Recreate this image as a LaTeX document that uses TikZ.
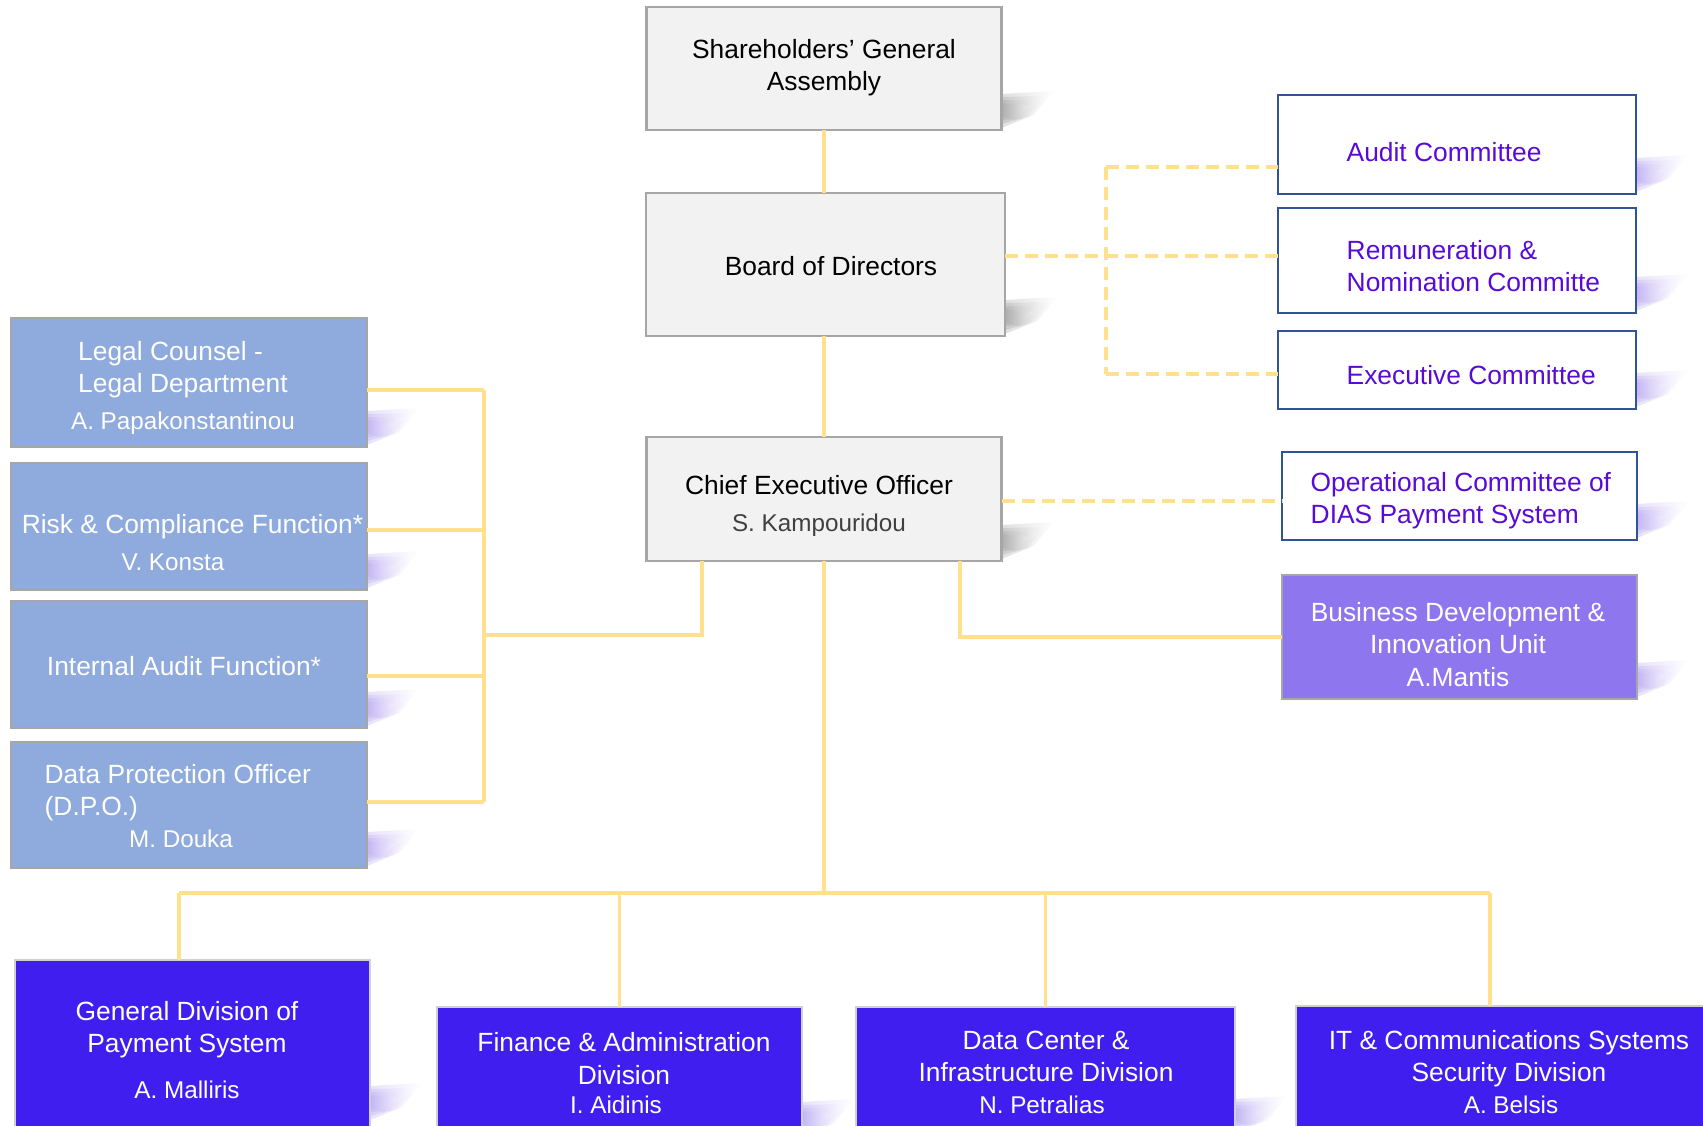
\documentclass[tikz,border=0pt]{standalone}
\usepackage{fontspec}
\setmainfont{Liberation Sans}
\usetikzlibrary{backgrounds}

\definecolor{linegold}{RGB}{255,224,140}
\definecolor{boxgray}{RGB}{242,242,242}
\definecolor{edgegray}{RGB}{166,166,166}
\definecolor{funcblue}{RGB}{143,170,220}
\definecolor{comedge}{RGB}{47,85,151}
\definecolor{comtext}{RGB}{88,10,215}
\definecolor{unitpurple}{RGB}{142,118,238}
\definecolor{divblue}{RGB}{64,30,240}
\definecolor{divedge}{RGB}{208,208,208}
\definecolor{lavender}{RGB}{178,160,242}
\definecolor{shadowgray}{RGB}{150,150,150}
\definecolor{namegray}{RGB}{64,64,64}

\tikzset{
  box/.style={rectangle, inner sep=0pt, outer sep=0pt},
  graybox/.style={box, fill=boxgray, draw=edgegray, line width=0.7pt},
  funcbox/.style={box, fill=funcblue, draw=edgegray, line width=0.7pt},
  combox/.style={box, fill=white, draw=comedge, line width=0.8pt},
  unitbox/.style={box, fill=unitpurple, draw=edgegray, line width=0.7pt},
  divbox/.style={box, fill=divblue, draw=divedge, line width=0.7pt},
  txt/.style={font=\fontsize{7.5}{9.2}\selectfont, inner sep=0pt, align=center},
  nametxt/.style={font=\fontsize{6.9}{8.5}\selectfont, inner sep=0pt},
  conn/.style={draw=linegold, line width=0.9pt},
  dashconn/.style={conn, dash pattern=on 0.13cm off 0.07cm},
}

\begin{document}
\begin{tikzpicture}
	\useasboundingbox (0,0) rectangle (17.03,-11.26);
	\clip (0,0) rectangle (17.03,-11.26);

	% governance boxes
	\node[graybox, minimum width=3.55cm, minimum height=1.23cm] (sga) at (8.24,-0.685) {};
	\node[graybox, minimum width=3.59cm, minimum height=1.43cm] (board) at (8.255,-2.645) {};
	\node[graybox, minimum width=3.55cm, minimum height=1.24cm] (ceo) at (8.24,-4.99) {};

	\node[txt] (sgaT) at (8.24,-0.675) {Shareholders’ General\\Assembly};
	\node[txt] (boardT) at (8.31,-2.66) {Board of Directors};
	\node[txt] (ceoT) at (8.19,-4.85) {Chief Executive Officer};
	\node[nametxt, text=namegray] (ceoN) at (8.19,-5.25) {S. Kampouridou};

	% committees
	\node[combox, minimum width=3.58cm, minimum height=0.99cm] (audit) at (14.57,-1.445) {};
	\node[combox, minimum width=3.58cm, minimum height=1.05cm] (remun) at (14.57,-2.605) {};
	\node[combox, minimum width=3.58cm, minimum height=0.78cm] (exec) at (14.57,-3.70) {};
	\node[combox, minimum width=3.55cm, minimum height=0.88cm] (opcom) at (14.595,-4.96) {};
	\node[unitbox, minimum width=3.55cm, minimum height=1.24cm] (busdev) at (14.595,-6.37) {};

	\node[txt, text=comtext, anchor=west, align=left] (auditT) at (13.46,-1.52) {Audit Committee};
	\node[txt, text=comtext, anchor=west, align=left] (remunT) at (13.46,-2.66) {Remuneration \&\\Nomination Committe};
	\node[txt, text=comtext, anchor=west, align=left] (execT) at (13.46,-3.75) {Executive Committee};
	\node[txt, text=comtext, anchor=west, align=left] (opcomT) at (13.10,-5.01) {Operational Committee of\\DIAS Payment System};
	\node[txt, text=white] (busdevT) at (14.58,-6.445) {Business Development \&\\Innovation Unit\\A.Mantis};

	% control functions
	\node[funcbox, minimum width=3.56cm, minimum height=1.29cm] (legal) at (1.89,-3.825) {};
	\node[funcbox, minimum width=3.56cm, minimum height=1.27cm] (risk) at (1.89,-5.265) {};
	\node[funcbox, minimum width=3.56cm, minimum height=1.27cm] (intaudit) at (1.89,-6.645) {};
	\node[funcbox, minimum width=3.56cm, minimum height=1.26cm] (dpo) at (1.89,-8.05) {};

	\node[txt, text=white, align=left] (legalT) at (1.83,-3.70) {Legal Counsel -\\Legal Department};
	\node[nametxt, text=white] (legalN) at (1.83,-4.23) {A. Papakonstantinou};
	\node[txt, text=white] (riskT) at (1.925,-5.27) {Risk \& Compliance Function*};
	\node[nametxt, text=white] (riskN) at (1.73,-5.62) {V. Konsta};
	\node[txt, text=white] (intauditT) at (1.84,-6.66) {Internal Audit Function*};
	\node[txt, text=white, anchor=west, align=left] (dpoT) at (0.44,-7.93) {Data Protection Officer\\(D.P.O.)};
	\node[nametxt, text=white] (dpoN) at (1.81,-8.39) {M. Douka};

	% divisions
	\node[divbox, minimum width=3.55cm, minimum height=2.00cm] (gendiv) at (1.925,-10.60) {};
	\node[divbox, minimum width=3.65cm, minimum height=1.53cm] (finance) at (6.195,-10.835) {};
	\node[divbox, minimum width=3.79cm, minimum height=1.53cm] (datacenter) at (10.455,-10.835) {};
	\node[divbox, minimum width=4.24cm, minimum height=1.54cm] (itsec) at (15.08,-10.83) {};

	\node[txt, text=white] (gendivT) at (1.87,-10.30) {General Division of\\Payment System};
	\node[nametxt, text=white] (gendivN) at (1.87,-10.90) {A. Malliris};
	\node[txt, text=white] (financeT) at (6.24,-10.585) {Finance \& Administration\\Division};
	\node[nametxt, text=white] (financeN) at (6.16,-11.05) {I. Aidinis};
	\node[txt, text=white] (datacenterT) at (10.46,-10.565) {Data Center \&\\Infrastructure Division};
	\node[nametxt, text=white] (datacenterN) at (10.42,-11.05) {N. Petralias};
	\node[txt, text=white] (itsecT) at (15.09,-10.585) {IT \& Communications Systems\\Security Division};
	\node[nametxt, text=white] (itsecN) at (15.11,-11.05) {A. Belsis};

	% soft shadows
	\begin{scope}[on background layer]
		\fill[white] (0,0) rectangle (17.03,-11.26);
		\foreach \n/\s/\c in {sga/0cm/shadowgray, board/0cm/shadowgray, ceo/0cm/shadowgray,
				audit/0cm/lavender, remun/0cm/lavender, exec/0cm/lavender, opcom/0cm/lavender, busdev/0cm/lavender,
				legal/0cm/lavender, risk/0cm/lavender, intaudit/0cm/lavender, dpo/0cm/lavender,
				gendiv/0.38cm/lavender, finance/0.22cm/lavender, datacenter/0.25cm/lavender}
			\foreach \k in {0,1,2,3}
				\shade[left color=\c, right color=white, opacity=0.3]
					([yshift=\s]\n.south east) ++(0,0.02+0.04*\k) -- ++(0,0.34-0.07*\k)
					-- ++(0.52-0.08*\k,0.03-0.02*\k) -- ++(-0.2+0.02*\k,-0.24+0.03*\k) -- cycle;
	\end{scope}

	% solid lines
	\draw[conn] (sga.south) -- (sga.south |- board.north);
	\draw[conn] (ceo.north |- board.south) -- (ceo.north);

	\coordinate (busL) at (1.79,-8.93);
	\coordinate (busR) at (14.90,-8.93);
	\draw[conn] (busL) -- (busR);
	\draw[conn] (ceo.south) -- (ceo.south |- busL);
	\draw[conn] (busL) -- (busL |- gendiv.north);
	\draw[conn] (finance.north |- busL) -- (finance.north);
	\draw[conn] (datacenter.north |- busL) -- (datacenter.north);
	\draw[conn] (busR) -- (busR |- itsec.north);

	\coordinate (ltop) at (4.84,-3.90);
	\coordinate (lbot) at (4.84,-8.02);
	\draw[conn] (ltop) -- (lbot);
	\foreach \n/\y in {legal/-3.90, risk/-5.30, intaudit/-6.76, dpo/-8.02}
		\draw[conn] (\n.east |- 0,\y) -- (ltop |- 0,\y);
	\draw[conn] (ltop |- 0,-6.35) -| ([xshift=-1.22cm]ceo.south);
	\draw[conn] ([xshift=1.36cm]ceo.south) |- (busdev.west);

	% dashed lines
	\coordinate (dtop) at (11.06,-1.67);
	\coordinate (dbot) at (11.06,-3.74);
	\draw[dashconn] (dtop) -- (dbot);
	\draw[dashconn] (dtop) -- (audit.west |- dtop);
	\draw[dashconn] (dbot) -- (exec.west |- dbot);
	\draw[dashconn] (board.east |- 0,-2.56) -- (remun.west |- 0,-2.56);
	\draw[dashconn] (ceo.east |- 0,-5.01) -- (opcom.west |- 0,-5.01);
\end{tikzpicture}
\end{document}
